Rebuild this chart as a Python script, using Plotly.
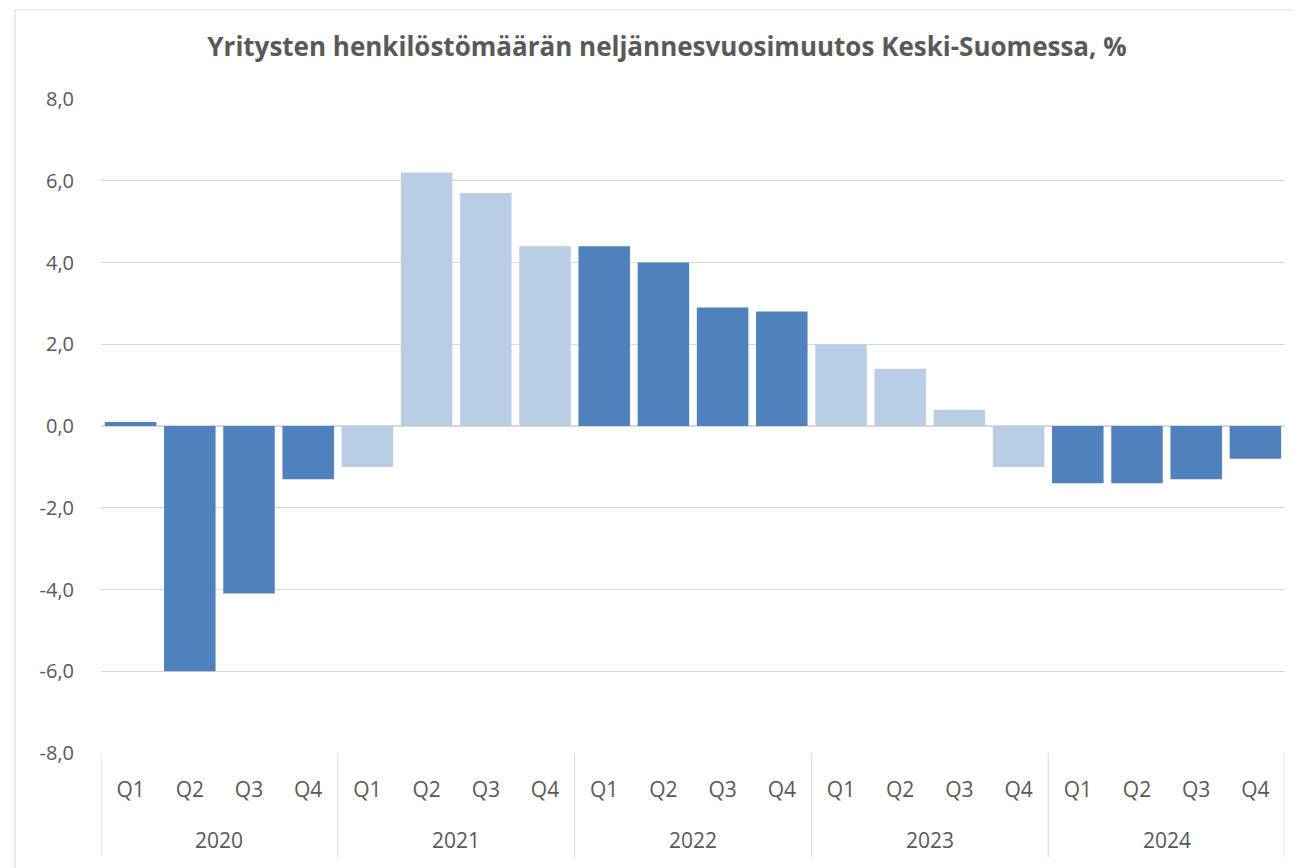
import plotly.graph_objects as go

years = ["2020", "2021", "2022", "2023", "2024"]
quarters = ["Q1", "Q2", "Q3", "Q4"]
values = [0.1, -6.0, -4.1, -1.3,
          -1.0, 6.2, 5.7, 4.4,
          4.4, 4.0, 2.9, 2.8,
          2.0, 1.4, 0.4, -1.0,
          -1.4, -1.4, -1.3, -0.8]
year_colors = ["#4F81BD", "#B9CDE5", "#4F81BD", "#B9CDE5", "#4F81BD"]
y_tickvals = [-8, -6, -4, -2, 0, 2, 4, 6, 8]
y_ticktext = ["-8,0", "-6,0", "-4,0", "-2,0", "0,0", "2,0", "4,0", "6,0", "8,0"]
title = "Yritysten henkilöstömäärän neljännesvuosimuutos Keski-Suomessa, %"

nq = len(quarters)
idx = list(range(len(values)))
colors = [year_colors[i // nq] for i in idx]
q_labels = [quarters[i % nq] for i in idx]

# page is offset by the browser's 8px body margin
L, R, T, B = 93, 16, 91, 115
PW, PH = 1184, 654
W, H = L + PW + R, T + PH + B

font_family = "Open Sans, Noto Sans, sans-serif"
txt = "#595959"
grid = "#D9D9D9"

fig = go.Figure(go.Bar(
    x=idx, y=values,
    marker=dict(color=colors, line=dict(width=0)),
    hoverinfo="y",
))

fig.update_layout(
    width=W, height=H,
    paper_bgcolor="white", plot_bgcolor="white",
    margin=dict(l=L, r=R, t=T, b=B),
    bargap=0.13,
    showlegend=False,
    font=dict(family=font_family, size=20, color=txt),
    title=dict(text="<b>" + title + "</b>", x=(667 - 8) / W, xanchor="center",
               y=1 - 39 / H, yanchor="middle",
               font=dict(family=font_family, size=26, color=txt)),
    xaxis=dict(
        range=[-0.5, len(values) - 0.5],
        tickmode="array", tickvals=idx, ticktext=q_labels,
        showline=False, ticks="", showgrid=False, zeroline=False,
        ticklabelstandoff=22,
        tickfont=dict(size=21, color=txt),
    ),
    yaxis=dict(
        range=[-8, 8],
        tickvals=y_tickvals, ticktext=y_ticktext,
        showgrid=True, gridcolor=grid, gridwidth=1,
        zeroline=True, zerolinecolor=grid, zerolinewidth=2,
        showline=False, ticks="",
        ticklabelstandoff=26,
        tickfont=dict(size=20, color=txt),
    ),
)

# year labels and group dividers
for g, yr in enumerate(years):
    fig.add_annotation(x=g * nq + (nq - 1) / 2, xref="x", y=-87 / PH, yref="paper",
                       text=yr, showarrow=False, yanchor="middle",
                       font=dict(size=21, color=txt))
for g in range(len(years) + 1):
    fig.add_shape(type="line", xref="x", yref="paper",
                  x0=g * nq - 0.5, x1=g * nq - 0.5, y0=0, y1=-104 / PH,
                  line=dict(color=grid, width=1))

# chart-area border
fig.add_shape(type="rect", xref="paper", yref="paper",
              x0=-(L - 7) / PW, x1=1 + (R + 40) / PW, y0=-(B + 40) / PH, y1=1 + (T - 2) / PH,
              line=dict(color=grid, width=1), fillcolor="rgba(0,0,0,0)")

fig.write_html("out.html")
